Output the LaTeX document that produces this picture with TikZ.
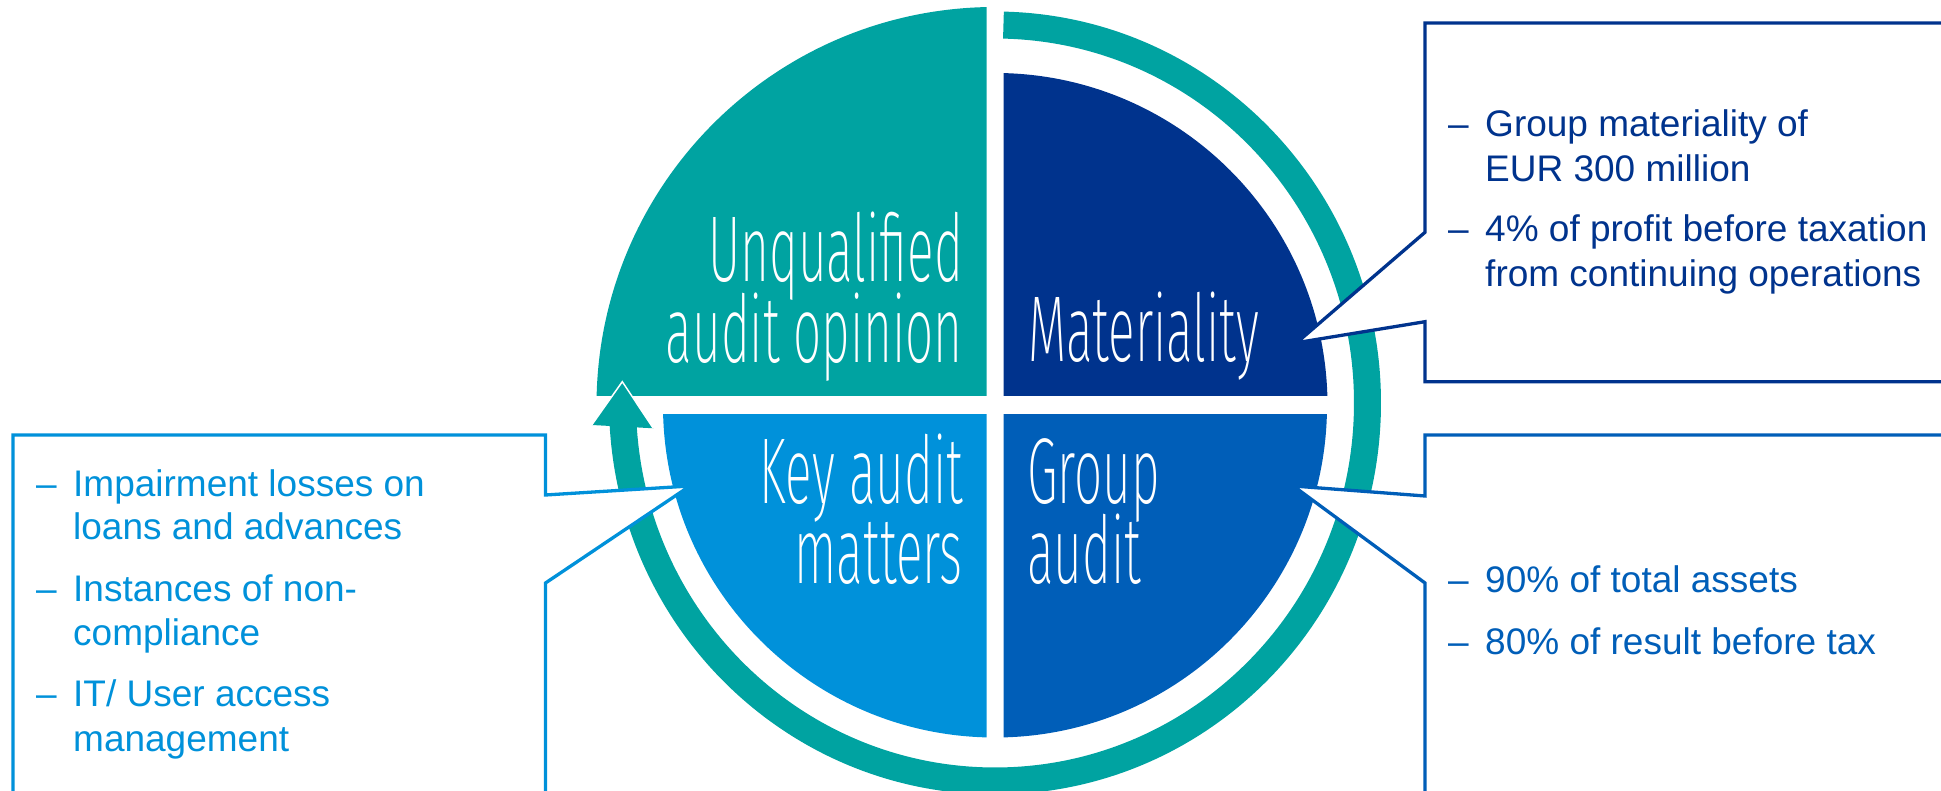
\documentclass[tikz,border=0pt]{standalone}
\usepackage{fontspec}
\setmainfont{Liberation Sans}
\newfontfamily\qfont[FakeStretch=0.53]{Fira Sans ExtraLight}
\definecolor{kteal}{HTML}{00A3A1}
\definecolor{kdark}{HTML}{00338D}
\definecolor{kmed}{HTML}{005EB8}
\definecolor{klight}{HTML}{0091DA}
\begin{document}
\begin{tikzpicture}[x=1pt,y=1pt,
  qlabel/.style={text=white,font=\qfont\fontsize{93.6}{80}\selectfont,inner sep=0,
    text height=66pt,text depth=0pt},
  listtxt/.style={font=\fontsize{37}{45}\selectfont,inner sep=0,anchor=base west},
  callout/.style={fill=white,line width=3.3pt,line join=miter}]
\useasboundingbox (0,0) rectangle (1941,791);
\clip (0,0) rectangle (1941,791);
% quadrants
\begin{scope}
  \clip (0,395) rectangle (986.5,800);
  \fill[kteal] (995,385.5) circle[radius=398.5];
\end{scope}
\begin{scope}
  \clip (1003.5,395) rectangle (1941,800);
  \fill[kdark] (995,385.5) circle[radius=332.5];
\end{scope}
\begin{scope}
  \clip (0,376) rectangle (986.5,-10);
  \fill[klight] (995,385.5) circle[radius=332];
\end{scope}
\begin{scope}
  \clip (1003.5,376) rectangle (1941,-10);
  \fill[kmed] (995,385.5) circle[radius=332];
\end{scope}
% ring with arrow
\draw[kteal,line width=27pt] (995,388) ++(88.7:372.5 and 378)
  arc[start angle=88.7,end angle=-176.8,x radius=372.5,y radius=378];
\fill[kteal] (591.7,366) -- (622.3,409.3) -- (653.3,362.7) -- cycle;
\draw[white,line width=1.5pt,line join=miter] (591.7,366) -- (622.3,409.3) -- (653.3,362.7);
% quadrant labels
\node[qlabel,anchor=base east] (uq1) at (963,509) {Unqualified};
\node[qlabel,anchor=base east] (uq2) at (963,428) {audit opinion};
\node[qlabel,anchor=base west] (mat) at (1028,429) {Materiality};
\node[qlabel,anchor=base east] (ka1) at (963,287) {Key audit};
\node[qlabel,anchor=base east] (ka2) at (963,207) {matters};
\node[qlabel,anchor=base west] (ga1) at (1027,287) {Group};
\node[qlabel,anchor=base west] (ga2) at (1027,207) {audit};
% callouts
\coordinate (mtip) at (1296.7,448.3);
\coordinate (gtip) at (1293.3,305);
\coordinate (ktip) at (690,305);
\draw[callout,draw=kdark] (1960,768) -- (1425,768) -- (1425,558.7) -- (mtip)
  -- (1425,469.3) -- (1425,409.3) -- (1960,409.3);
\draw[callout,draw=kmed] (1960,356) -- (1425,356) -- (1425,295) -- (gtip)
  -- (1425,208) -- (1425,-20) -- (1960,-20);
\draw[callout,draw=klight] (13,-20) -- (13,356) -- (545.5,356) -- (545.5,296)
  -- (ktip) -- (545.5,208) -- (545.5,-20);
% materiality text
\node[listtxt,text=kdark] (m1d) at (1448,654) {–};
\node[listtxt,text=kdark] (m1a) at (1485,654) {Group materiality of};
\node[listtxt,text=kdark] (m1b) at (1485,609) {EUR 300 million};
\node[listtxt,text=kdark] (m2d) at (1448,549) {–};
\node[listtxt,text=kdark] (m2a) at (1485,549) {4\% of profit before taxation};
\node[listtxt,text=kdark] (m2b) at (1485,504) {from continuing operations};
% group audit text
\node[listtxt,text=kmed] (g1d) at (1448,198) {–};
\node[listtxt,text=kmed] (g1a) at (1485,198) {90\% of total assets};
\node[listtxt,text=kmed] (g2d) at (1448,136) {–};
\node[listtxt,text=kmed] (g2a) at (1485,136) {80\% of result before tax};
% key audit matters text
\node[listtxt,text=klight] (k1d) at (36,294) {–};
\node[listtxt,text=klight] (k1a) at (73,294) {Impairment losses on};
\node[listtxt,text=klight] (k1b) at (73,251) {loans and advances};
\node[listtxt,text=klight] (k2d) at (36,189) {–};
\node[listtxt,text=klight] (k2a) at (73,189) {Instances of non-};
\node[listtxt,text=klight] (k2b) at (73,145) {compliance};
\node[listtxt,text=klight] (k3d) at (36,84) {–};
\node[listtxt,text=klight] (k3a) at (73,84) {IT/ User access};
\node[listtxt,text=klight] (k3b) at (73,39) {management};
\end{tikzpicture}
\end{document}
